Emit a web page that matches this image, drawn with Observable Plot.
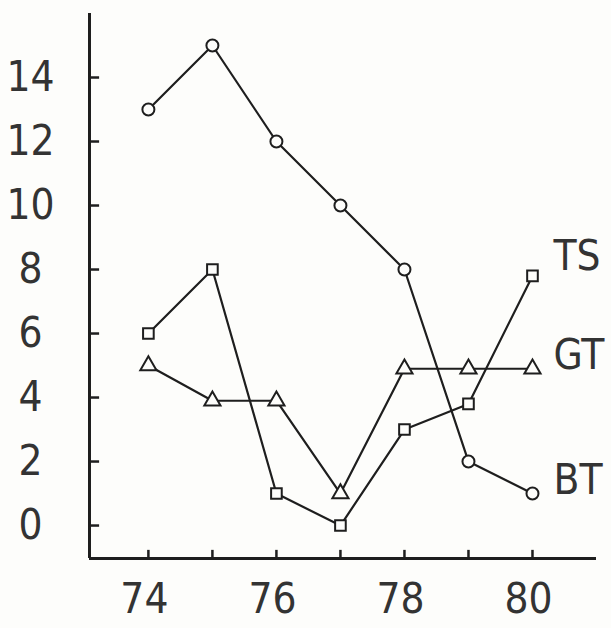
<!DOCTYPE html>
<html>
<head>
<meta charset="utf-8">
<script src="https://cdn.jsdelivr.net/npm/d3@7"></script>
<script src="https://cdn.jsdelivr.net/npm/@observablehq/plot@0.6"></script>
<style>
  html, body { margin: 0; padding: 0; background: #fdfdfb; }
  svg { display: block; }
  svg text { font-stretch: condensed; }
</style>
</head>
<body>
<div id="chart"></div>
<script>
const years = [74, 75, 76, 77, 78, 79, 80];
const seriesNames = ["BT", "TS", "GT"];
const btValues = [13, 15, 12, 10, 8, 2, 1];
const tsValues = [6, 8, 1, 0, 3, 3.8, 7.8];
const gtValues = [5, 3.9, 3.9, 1, 4.9, 4.9, 4.9];
const symbols = ["circle", "square", "triangle"];
const labelY = [1.4, 8.4, 5.3];
const yTicks = [0, 2, 4, 6, 8, 10, 12, 14];
const xTicks = [74, 75, 76, 77, 78, 79, 80];
const xLabels = [74, 76, 78, 80];

const valuesBySeries = [btValues, tsValues, gtValues];
const rows = [];
seriesNames.forEach((s, i) => {
  years.forEach((yr, j) => rows.push({series: s, year: yr, value: valuesBySeries[i][j], symbol: symbols[i]}));
});
const labels = seriesNames.map((s, i) => ({series: s, year: years[years.length - 1], value: labelY[i]}));

const xDomain = [73.08, 81];
const yDomain = [-1.03, 16];
const yTickRows = yTicks.map(v => ({a: xDomain[0], b: xDomain[0] + 0.15, v}));
const xTickRows = xTicks.map(v => ({a: yDomain[0], b: yDomain[0] + 0.27, v}));
const ink = "#1e1e1e";
const font = "'Liberation Sans Narrow', 'DejaVu Sans Condensed', 'DejaVu Sans', sans-serif";

const plot = Plot.plot({
  width: 611,
  height: 628,
  marginLeft: 89,
  marginRight: 15,
  marginTop: 13,
  marginBottom: 70,
  style: {fontFamily: font, fontSize: "42px", color: ink, background: "#fdfdfb", overflow: "visible"},
  x: {domain: xDomain, label: null},
  y: {domain: yDomain, label: null},
  marks: [
    Plot.axisY({ticks: yTicks, tickSize: 0, tickPadding: 59, textAnchor: "middle", fontSize: 42, fill: "#333", label: null}),
    Plot.axisX({ticks: xLabels, tickSize: 0, tickPadding: 25, fontSize: 42, fill: "#333", dx: -4, label: null}),
    Plot.link(yTickRows, {x1: "a", x2: "b", y1: "v", y2: "v", stroke: ink, strokeWidth: 2.5}),
    Plot.link(xTickRows, {x1: "v", x2: "v", y1: "a", y2: "b", stroke: ink, strokeWidth: 2.5}),
    Plot.ruleX([xDomain[0]], {stroke: ink, strokeWidth: 3}),
    Plot.ruleY([yDomain[0]], {stroke: ink, strokeWidth: 3}),
    Plot.line(rows, {x: "year", y: "value", z: "series", stroke: ink, strokeWidth: 2.2}),
    Plot.dot(rows, {x: "year", y: "value", symbol: "symbol", r: 6, fill: "#fdfdfb", stroke: ink, strokeWidth: 2}),
    Plot.text(labels, {x: "year", y: "value", text: "series", textAnchor: "start", dx: 21, fontSize: 42, fill: "#333"})
  ]
});
document.getElementById("chart").appendChild(plot);
</script>
</body>
</html>
